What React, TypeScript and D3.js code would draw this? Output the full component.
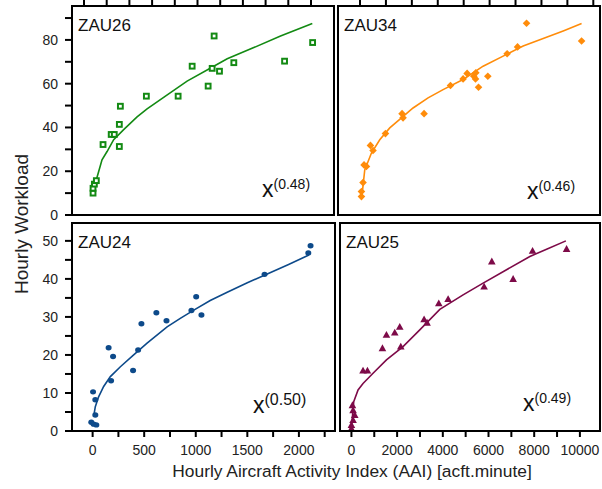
import React from "react";
import * as d3 from "d3";

// ---------- DATA ----------
const zau26Points: [number, number][] = [
  [4, 10.0], [4, 12.2], [17, 14.1], [36, 15.7], [101, 32.2], [180, 36.8], [210, 36.8],
  [259, 41.4], [259, 31.3], [269, 49.7], [521, 54.3], [829, 54.3], [965, 68.0],
  [1120, 58.9], [1159, 67.0], [1178, 81.8], [1230, 65.7], [1369, 69.6], [1861, 70.3], [2133, 78.8],
];
const zau26Fit: [number, number][] = [
  [10, 10.7], [36, 16.1], [91, 25.2], [140, 29.0], [204, 34.4], [301, 39.0], [431, 44.8],
  [528, 48.5], [706, 54.3], [916, 61.2], [1175, 68.0], [1305, 71.4], [1563, 76.5],
  [1822, 81.8], [2130, 87.5],
];

const zau34Points: [number, number][] = [
  [438, 8.4], [438, 10.7], [508, 14.8], [552, 22.9], [657, 22.2], [832, 31.8], [946, 29.5],
  [1489, 37.2], [2216, 46.3], [2260, 44.4], [3180, 46.3], [4336, 59.2], [4888, 62.2],
  [5064, 64.7], [5357, 63.4], [5445, 65.0], [5432, 62.2], [5563, 58.4], [5970, 63.4],
  [6815, 73.7], [7271, 76.8], [7665, 87.6], [10074, 79.5],
];
const zau34Fit: [number, number][] = [
  [465, 9.2], [583, 20.6], [876, 28.3], [1240, 34.4], [1678, 39.8], [2190, 44.4],
  [2698, 48.9], [3355, 53.5], [4012, 57.3], [4888, 61.9], [5764, 68.0], [6640, 72.6],
  [7516, 77.2], [8393, 80.6], [9269, 84.1], [10074, 87.5],
];

const zau24Points: [number, number][] = [
  [-13, 2.3], [10, 1.8], [36, 1.6], [4, 10.3], [26, 8.2], [26, 4.2], [155, 21.9],
  [179, 13.2], [198, 19.6], [392, 15.9], [441, 21.3], [473, 28.2], [618, 31.1],
  [716, 29.0], [958, 31.7], [1004, 35.3], [1055, 30.5], [1667, 41.2], [2091, 46.8], [2113, 48.7],
];
const zau24Fit: [number, number][] = [
  [10, 3.8], [26, 6.4], [58, 9.0], [107, 11.7], [172, 14.3], [269, 16.9], [398, 20.0],
  [528, 23.1], [722, 27.4], [850, 29.6], [981, 31.8], [1140, 34.3], [1305, 36.5],
  [1500, 39.0], [1693, 41.3], [1900, 43.8], [2097, 46.3],
];

const zau25Points: [number, number][] = [
  [0, 0.7], [0, 1.6], [73, 2.9], [146, 4.2], [73, 5.5], [44, 6.8], [508, 15.9], [701, 15.9],
  [1358, 21.8], [1533, 25.3], [1897, 25.9], [2116, 27.4], [2160, 22.2], [3180, 29.4],
  [3311, 28.5], [3824, 33.6], [4233, 34.7], [5808, 38.0], [6145, 44.6], [7078, 40.0],
  [7928, 47.4], [9417, 47.9],
];
const zau25Fit: [number, number][] = [
  [0, 0.7], [101, 7.7], [290, 10.8], [508, 12.5], [946, 15.2], [1533, 18.7], [2260, 22.2],
  [2992, 26.6], [3868, 32.0], [4888, 35.8], [5764, 38.9], [6789, 42.4], [7810, 45.9],
  [8541, 47.8], [9387, 50.0],
];

const yTicksTop = [0, 10, 20, 30, 40, 50, 60, 70, 80, 90];
const yLabelsTop = [0, 20, 40, 60, 80];
const yTicksBottom = [0, 5, 10, 15, 20, 25, 30, 35, 40, 45, 50];
const yLabelsBottom = [0, 10, 20, 30, 40, 50];
const xTicksSmall = [0, 250, 500, 750, 1000, 1250, 1500, 1750, 2000, 2250];
const xLabelsSmall = [0, 500, 1000, 1500, 2000];
const xTicksLarge = [0, 1000, 2000, 3000, 4000, 5000, 6000, 7000, 8000, 9000, 10000];
const xLabelsLarge = [0, 2000, 4000, 6000, 8000, 10000];
const topTicksIdxLeft = [0, 1, 2, 3, 4, 5, 6, 7, 8, 9, 10];
const topTicksIdxRight = [0, 1, 2, 3, 4, 5, 6, 7, 8, 9];

const FONT = "'Liberation Sans', Arial, sans-serif";

type Marker = "square" | "diamond" | "circle" | "triangle";

const App = () => {
  const W = 602, H = 489;
  const xSmall = d3.scaleLinear().domain([-200, 2350]).range([72, 335]);
  const xLarge = d3.scaleLinear().domain([-500, 10880]).range([340, 600]);
  const yTop = d3.scaleLinear().domain([0, 95.5]).range([215, 6]);
  const yBot = d3.scaleLinear().domain([0, 54.7]).range([431, 223]);
  const topTickL = d3.scaleLinear().domain([0, 10]).range([84, 311]);
  const topTickR = d3.scaleLinear().domain([0, 9]).range([360, 593.3]);

  const panels = [
    { name: "ZAU26", exp: "(0.48)", pts: zau26Points, fit: zau26Fit, color: "#138a13", marker: "square" as Marker,
      x: xSmall, y: yTop, x0: 72, x1: 334, y0: 6, y1: 215, xExp: 262, yExp: 197, supSize: 14 },
    { name: "ZAU34", exp: "(0.46)", pts: zau34Points, fit: zau34Fit, color: "#ff8c0a", marker: "diamond" as Marker,
      x: xLarge, y: yTop, x0: 338, x1: 600, y0: 6, y1: 215, xExp: 527, yExp: 199, supSize: 14 },
    { name: "ZAU24", exp: "(0.50)", pts: zau24Points, fit: zau24Fit, color: "#0d4a8a", marker: "circle" as Marker,
      x: xSmall, y: yBot, x0: 72, x1: 335, y0: 223, y1: 431, xExp: 253, yExp: 413, supSize: 16 },
    { name: "ZAU25", exp: "(0.49)", pts: zau25Points, fit: zau25Fit, color: "#7d0a48", marker: "triangle" as Marker,
      x: xLarge, y: yBot, x0: 340, x1: 600, y0: 223, y1: 431, xExp: 523, yExp: 411, supSize: 14 },
  ];

  const drawMarker = (m: Marker, cx: number, cy: number, color: string, key: string) => {
    if (m === "square")
      return <rect key={key} x={cx - 2.4} y={cy - 2.4} width={4.8} height={4.8} fill="#fff" stroke={color} strokeWidth={2} />;
    if (m === "circle") return <ellipse key={key} cx={cx} cy={cy} rx={3} ry={2.7} fill={color} />;
    if (m === "diamond") {
      const s = 3.8;
      return <path key={key} d={`M${cx},${cy - s}L${cx + s},${cy}L${cx},${cy + s}L${cx - s},${cy}Z`} fill={color} />;
    }
    const s = 3.8;
    return <path key={key} d={`M${cx},${cy - s}L${cx + s},${cy + s * 0.8}L${cx - s},${cy + s * 0.8}Z`} fill={color} />;
  };

  return (
    <svg width={W} height={H} style={{ position: "absolute", left: 0, top: 0, background: "#fff" }} fontFamily={FONT}>
      <rect width={W} height={H} fill="#fff" />
      {panels.map((p, i) => {
        const line = d3.line<[number, number]>().x((d) => p.x(d[0])).y((d) => p.y(d[1]));
        return (
          <g key={p.name}>
            <path d={line(p.fit) || ""} fill="none" stroke={p.color} strokeWidth={1.6} />
            {p.pts.map((d, j) => drawMarker(p.marker, p.x(d[0]), p.y(d[1]), p.color, `${i}-${j}`))}
            <rect x={p.x0} y={p.y0} width={p.x1 - p.x0} height={p.y1 - p.y0} fill="none" stroke="#000" strokeWidth={2} />
            <text x={p.x0 + 6} y={p.y0 + 25} fontSize={17} fill="#111">{p.name}</text>
            <text x={p.xExp} y={p.yExp} fill="#111" fontSize={23}>
              x<tspan fontSize={p.supSize} dy={-8}>{p.exp}</tspan>
            </text>
          </g>
        );
      })}
      {yTicksTop.map((t) => (
        <line key={`yt${t}`} x1={65} x2={72} y1={yTop(t)} y2={yTop(t)} stroke="#000" strokeWidth={2} />
      ))}
      {yLabelsTop.map((t) => (
        <text key={`ytl${t}`} x={58} y={yTop(t)} dy="0.35em" textAnchor="end" fontSize={14} fill="#222">{t}</text>
      ))}
      {yTicksBottom.map((t) => (
        <line key={`yb${t}`} x1={65} x2={72} y1={yBot(t)} y2={yBot(t)} stroke="#000" strokeWidth={2} />
      ))}
      {yLabelsBottom.map((t) => (
        <text key={`ybl${t}`} x={58} y={yBot(t)} dy="0.35em" textAnchor="end" fontSize={14} fill="#222">{t}</text>
      ))}
      {xTicksSmall.map((t) => (
        <line key={`xs${t}`} x1={xSmall(t)} x2={xSmall(t)} y1={431} y2={437} stroke="#000" strokeWidth={2} />
      ))}
      {xLabelsSmall.map((t) => (
        <text key={`xsl${t}`} x={xSmall(t)} y={455} textAnchor="middle" fontSize={14} fill="#222">{t}</text>
      ))}
      {xTicksLarge.map((t) => (
        <line key={`xl${t}`} x1={xLarge(t)} x2={xLarge(t)} y1={431} y2={437} stroke="#000" strokeWidth={2} />
      ))}
      {xLabelsLarge.map((t) => (
        <text key={`xll${t}`} x={xLarge(t)} y={455} textAnchor="middle" fontSize={14} fill="#222">{t}</text>
      ))}
      {topTicksIdxLeft.map((t) => (
        <line key={`tl${t}`} x1={topTickL(t)} x2={topTickL(t)} y1={0} y2={6} stroke="#000" strokeWidth={2} />
      ))}
      {topTicksIdxRight.map((t) => (
        <line key={`tr${t}`} x1={topTickR(t)} x2={topTickR(t)} y1={0} y2={6} stroke="#000" strokeWidth={2} />
      ))}
      <text transform="translate(28,224) rotate(-90)" textAnchor="middle" fontSize={19} fill="#222">Hourly Workload</text>
      <text x={352} y={477} textAnchor="middle" fontSize={17.4} fill="#222">Hourly Aircraft Activity Index (AAI) [acft.minute]</text>
    </svg>
  );
};

export default App;
